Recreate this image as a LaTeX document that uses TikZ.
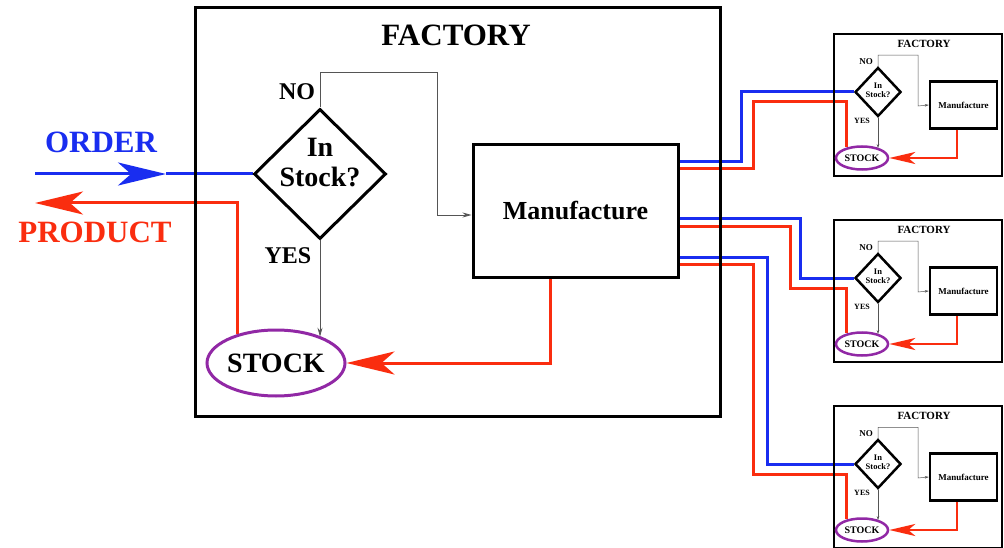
\documentclass[tikz,border=0pt]{standalone}
\usepackage{fontspec}
\setmainfont{Liberation Serif}
\usetikzlibrary{shapes.geometric,arrows.meta,backgrounds}
\definecolor{ordblue}{RGB}{25,45,240}
\definecolor{prodred}{RGB}{250,45,15}
\definecolor{stockpurple}{RGB}{145,40,165}
\definecolor{thingray}{RGB}{85,85,85}
\begin{document}
\begin{tikzpicture}[x=1pt,y=-1pt,
  boxframe/.style={draw=black,line width=3pt,inner sep=0pt},
  sboxframe/.style={draw=black,line width=2.5pt,inner sep=0pt},
  decision/.style={diamond,draw=black,line width=3pt,inner sep=0pt},
  sdecision/.style={diamond,draw=black,line width=2.5pt,inner sep=0pt},
  stockell/.style={ellipse,draw=stockpurple,line width=3pt,inner sep=0pt},
  sstockell/.style={ellipse,draw=stockpurple,line width=2.5pt,inner sep=0pt},
  bigtxt/.style={font=\bfseries\fontsize{28}{30}\selectfont},
  flowblue/.style={draw=ordblue,line width=3pt},
  flowred/.style={draw=prodred,line width=3pt},
  sflowred/.style={draw=prodred,line width=2.5pt},
  bigtip/.style={-{Stealth[length=48pt,width=23pt,inset=13pt]}},
  smalltip/.style={-{Stealth[length=26pt,width=12pt,inset=7pt]}},
  thinflow/.style={draw=thingray,line width=0.8pt,-{Stealth[length=9pt,width=5pt]}},
  sthinflow/.style={draw=thingray,line width=0.5pt,-{Stealth[length=4pt,width=2.5pt]}},
]
\useasboundingbox (0,0) rectangle (1004,548);

% main factory
\node[boxframe, minimum width=525pt, minimum height=408pt] (fac) at (457.5,212) {};
\node[font=\bfseries\fontsize{31}{33}\selectfont] (factitle) at (456,35) {FACTORY};
\node[decision, minimum width=132pt, minimum height=130pt,
  label={[bigtxt,align=center,yshift=11pt]center:In\\Stock?}] (dia) at (320,174) {};
\node[boxframe, minimum width=205pt, minimum height=133pt,
  font=\bfseries\fontsize{26}{28}\selectfont] (mf) at (575.5,211) {Manufacture};
\node[stockell, minimum width=138pt, minimum height=66pt, bigtxt] (stock) at (276,363) {STOCK};
\node[font=\bfseries\fontsize{24}{26}\selectfont] (nolab) at (297,92) {NO};
\node[font=\bfseries\fontsize{24}{26}\selectfont] (yeslab) at (288,256) {YES};
\node[font=\bfseries\fontsize{31}{33}\selectfont, text=ordblue] (ordlab) at (101,142) {ORDER};
\node[font=\bfseries\fontsize{31}{33}\selectfont, text=prodred] (prodlab) at (95,232) {PRODUCT};

% small factories
\foreach \T/\n in {34/a,220/b,406/c}{
  \node[sboxframe, minimum width=168pt, minimum height=142pt] (sfac\n) at (918,\T+71) {};
  \node[font=\bfseries\fontsize{11}{12}\selectfont] (sfactitle\n) at (924,\T+10) {FACTORY};
  \node[sdecision, minimum width=46pt, minimum height=49pt,
    label={[font=\bfseries\fontsize{8.5}{9}\selectfont,align=center,yshift=2pt]center:In\\Stock?}] (sdia\n) at (878,\T+58) {};
  \node[sboxframe, minimum width=67pt, minimum height=47pt,
    font=\bfseries\fontsize{9}{10}\selectfont] (smf\n) at (963.5,\T+71) {Manufacture};
  \node[sstockell, minimum width=52pt, minimum height=23pt,
    font=\bfseries\fontsize{10}{11}\selectfont] (sstock\n) at (862,\T+124) {STOCK};
  \node[font=\bfseries\fontsize{9}{10}\selectfont] (sno\n) at (866,\T+28) {NO};
  \node[font=\bfseries\fontsize{8}{9}\selectfont] (syes\n) at (862,\T+87) {YES};
  \draw[sthinflow] (sdia\n.north) -- ++(0,-11) -| (918,\T+72) -- (smf\n.west);
  \draw[sthinflow] (sdia\n.south) -- (sdia\n.south |- sstock\n.30);
  \draw[sflowred, smalltip] (smf\n.south -| 957,0) |- (sstock\n.east);
}

% thin internal flows
\draw[thinflow] (dia.north) -- ++(0,-35) -| (437,215) -- (mf.west |- 0,215);
\draw[thinflow] (dia.south) -- (dia.south |- stock.30);

\begin{scope}[on background layer]
  \fill[white] (0,0) rectangle (1004,548);
  \coordinate (ordstart) at (35,174);
  \coordinate (ordhead) at (166,174);
  \coordinate (prodtip) at (35,203);
  \draw[flowblue, bigtip] (ordstart) -- (ordhead);
  \draw[flowblue] (ordhead) -- (dia.west);
  \draw[flowred, bigtip] (stock.143) |- (prodtip);
  \draw[flowred, bigtip] (mf.south -| 550,0) |- (stock.east);
  % outputs to other factories
  \draw[flowblue] (mf.east |- 0,162) -| (741,92) -- (sdiaa.west);
  \draw[flowred] (mf.east |- 0,169) -| (753,102) -| (sstocka.145);
  \draw[flowblue] (mf.east |- 0,219) -| (800,278) -- (sdiab.west);
  \draw[flowred] (mf.east |- 0,227) -| (790,288) -| (sstockb.145);
  \draw[flowblue] (mf.east |- 0,257) -| (767,464) -- (sdiac.west);
  \draw[flowred] (mf.east |- 0,264) -| (753,474) -| (sstockc.145);
\end{scope}
\end{tikzpicture}
\end{document}
